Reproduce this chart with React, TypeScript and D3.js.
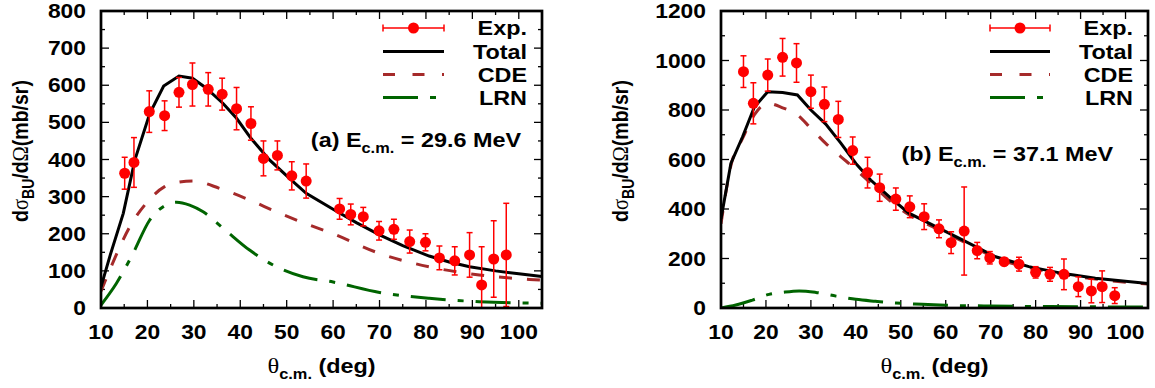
import React from 'react';
import * as d3 from 'd3';

// ---- panel (a): E_cm = 29.6 MeV ----
const thetaExpA = [15.1, 17.1, 20.4, 23.7, 26.8, 29.7, 33.1, 36.1, 39.2, 42.3, 45.0, 48.0, 51.1, 54.2, 61.4, 63.8, 66.5, 69.9, 73.1, 76.5, 79.9, 82.9, 86.2, 89.4, 92.0, 94.6, 97.3];
const sigmaExpA = [363, 392, 529, 518, 581, 602, 589, 576, 537, 497, 403, 411, 356, 342, 267, 252, 246, 208, 212, 179, 177, 135, 127, 143, 62, 132, 143];
const errExpA = [43, 67, 56, 40, 40, 58, 45, 43, 57, 45, 47, 39, 38, 46, 28, 28, 25, 25, 27, 31, 23, 32, 38, 60, 103, 103, 139];

const totalA: [number, number][] = [[10, 57], [12, 143], [14.8, 255], [17.3, 399], [20.5, 524], [23.5, 598], [26.8, 625], [29.7, 619], [32.7, 592], [36.3, 551], [39.2, 511], [42.3, 457], [46.3, 399], [50.6, 349], [54.2, 309], [60, 266], [65, 230], [70, 197], [75, 168], [80.7, 140], [85, 124], [89.4, 111], [95, 100], [100, 92], [105, 85]];
const cdeA: [number, number][] = [[10, 45], [13, 135], [16.2, 219], [19.4, 277], [23.7, 327], [26.8, 339], [29.8, 342], [35.6, 322], [42, 291], [47.8, 259], [53.5, 230], [60, 200], [70, 147], [80.7, 111], [91.5, 89], [102.3, 77], [105, 75]];
const lrnA: [number, number][] = [[10, 8], [13.3, 66], [16.9, 147], [20.5, 237], [23.4, 273], [26.3, 285], [29.1, 277], [32, 259], [36.3, 215], [42, 156], [47.8, 111], [53.5, 84], [60, 70], [70, 42], [80.7, 26], [91.5, 17], [105, 13]];

// ---- panel (b): E_cm = 37.1 MeV ----
const thetaExpB = [15.0, 17.2, 20.4, 23.7, 26.8, 30.0, 33.0, 36.1, 39.3, 42.6, 45.3, 48.9, 52.0, 55.2, 58.5, 61.2, 64.1, 67.0, 69.8, 73.0, 76.3, 80.0, 83.2, 86.3, 89.5, 92.4, 94.8, 97.6];
const sigmaExpB = [955, 827, 941, 1013, 990, 874, 823, 762, 636, 547, 486, 440, 409, 369, 320, 264, 311, 232, 203, 187, 177, 144, 136, 136, 86, 69, 86, 50];
const errExpB = [64, 83, 65, 76, 78, 67, 70, 73, 55, 62, 55, 45, 44, 52, 36, 44, 178, 33, 25, 15, 28, 23, 28, 62, 40, 48, 64, 32];

const totalB: [number, number][] = [[10, 360], [12.2, 584], [14.8, 692], [17.4, 811], [20.4, 874], [23.7, 871], [27, 861], [30, 800], [33.3, 743], [36.7, 665], [40, 584], [43.3, 517], [47.4, 450], [51.8, 383], [57.8, 329], [63.7, 275], [71.1, 207], [78.5, 167], [85.9, 140], [93.3, 120], [105, 99]];
const cdeB: [number, number][] = [[10, 340], [12.2, 575], [14.8, 685], [17.4, 780], [20.4, 827], [23.7, 809], [27, 780], [30, 726], [33.3, 665], [36.7, 611], [39.3, 571], [43.3, 504], [47.4, 436], [51.8, 377], [57.8, 322], [63.7, 270], [71.1, 203], [78.5, 163], [85.9, 137], [93.3, 117], [105, 97]];
const lrnB: [number, number][] = [[10, 0], [13.3, 12], [17, 32], [20.7, 55], [23.7, 63], [27.4, 69], [31.1, 63], [35.6, 48], [40, 35], [44.4, 27], [48.9, 20], [54.8, 15], [60, 11], [70, 8], [80, 6], [90, 5], [105, 4]];

const legendLabels = ['Exp.', 'Total', 'CDE', 'LRN'];
const xTickValues = [10, 20, 30, 40, 50, 60, 70, 80, 90, 100];

const FONT = "'Liberation Sans', Arial, Helvetica, sans-serif";
const SERIF = "'Liberation Serif', 'DejaVu Serif', serif";
const SX = 1.17; // the original's lettering is stretched sideways
const RED = '#ff0000';
const BROWN = '#a52a2a';
const GREEN = '#006400';
const CDE_DASH = '13,15';
const LRN_DASH = '35,12,6,12';

const BoldText = ({ x, y, anchor = 'start', size = 20, children }: any) => (
  <text transform={`translate(${x},${y}) scale(${SX},1)`} textAnchor={anchor}
    fontFamily={FONT} fontWeight="bold" fontSize={size} fill="#000">{children}</text>
);

const Panel = ({ id, left, right, yMax, yStep, theta, sigma, err, total, cde, lrn, tag, energy, noteX, noteY, legX0, legX1, legText, yLabelX }: any) => {
  const top = 11, bottom = 308;
  const x = d3.scaleLinear().domain([10, 105]).range([left, right]);
  const y = d3.scaleLinear().domain([0, yMax]).range([bottom, top]);

  const yMajor = d3.range(0, yMax + 1, yStep);
  const yMinor = d3.range(yStep / 2, yMax, yStep);
  const xMinor = d3.range(15, 100, 10);

  const linLine = d3.line<[number, number]>().x(d => x(d[0])).y(d => y(d[1]));
  const smoothLine = d3.line<[number, number]>().x(d => x(d[0])).y(d => y(d[1])).curve(d3.curveMonotoneX);

  const legRows = [28, 51.5, 74.5, 97.5];
  const cx = (left + right) / 2;

  return (
    <g>
      <defs>
        <clipPath id={`clip-${id}`}>
          <rect x={left} y={top} width={right - left} height={bottom - top} />
        </clipPath>
      </defs>

      {/* ticks, mirrored on all four sides */}
      <g stroke="#000" strokeWidth={1.3}>
        {xTickValues.map(t => (
          <g key={'xt' + t}>
            <line x1={x(t)} x2={x(t)} y1={bottom} y2={bottom - 8} />
            <line x1={x(t)} x2={x(t)} y1={top} y2={top + 8} />
          </g>
        ))}
        {xMinor.map(t => (
          <g key={'xm' + t}>
            <line x1={x(t)} x2={x(t)} y1={bottom} y2={bottom - 4} />
            <line x1={x(t)} x2={x(t)} y1={top} y2={top + 4} />
          </g>
        ))}
        {yMajor.map(t => (
          <g key={'yt' + t}>
            <line x1={left} x2={left + 8} y1={y(t)} y2={y(t)} />
            <line x1={right} x2={right - 8} y1={y(t)} y2={y(t)} />
          </g>
        ))}
        {yMinor.map(t => (
          <g key={'ym' + t}>
            <line x1={left} x2={left + 4} y1={y(t)} y2={y(t)} />
            <line x1={right} x2={right - 4} y1={y(t)} y2={y(t)} />
          </g>
        ))}
      </g>

      {/* tick labels */}
      {xTickValues.map(t => (
        <BoldText key={'xl' + t} x={x(t)} y={339} anchor="middle" size={19.5}>{t}</BoldText>
      ))}
      {yMajor.map(t => (
        <BoldText key={'yl' + t} x={left - 15} y={y(t) + 7} anchor="end" size={19.5}>{t}</BoldText>
      ))}

      {/* curves */}
      <g clipPath={`url(#clip-${id})`} fill="none" strokeWidth={3}>
        <path d={smoothLine(lrn) || ''} stroke={GREEN} strokeDasharray={LRN_DASH} />
        <path d={smoothLine(cde) || ''} stroke={BROWN} strokeDasharray={CDE_DASH} />
        <path d={linLine(total) || ''} stroke="#000" />
        {theta.map((t: number, i: number) => {
          const px = x(t);
          const hi = y(sigma[i] + err[i]);
          const lo = y(sigma[i] - err[i]);
          return (
            <g key={'p' + i} stroke={RED} strokeWidth={1.5}>
              <line x1={px} x2={px} y1={hi} y2={lo} />
              <line x1={px - 3} x2={px + 3} y1={hi} y2={hi} />
              <line x1={px - 3} x2={px + 3} y1={lo} y2={lo} />
              <circle cx={px} cy={y(sigma[i])} r={5.5} fill={RED} stroke="none" />
            </g>
          );
        })}
      </g>

      {/* legend */}
      <g>
        <g stroke={RED} strokeWidth={1.5}>
          <line x1={legX0} x2={legX1} y1={legRows[0]} y2={legRows[0]} />
          <line x1={legX0} x2={legX0} y1={legRows[0] - 3.5} y2={legRows[0] + 3.5} />
          <line x1={legX1} x2={legX1} y1={legRows[0] - 3.5} y2={legRows[0] + 3.5} />
          <circle cx={(legX0 + legX1) / 2} cy={legRows[0]} r={5.5} fill={RED} stroke="none" />
        </g>
        <line x1={legX0} x2={legX1} y1={legRows[1]} y2={legRows[1]} stroke="#000" strokeWidth={3} />
        <line x1={legX0} x2={legX1} y1={legRows[2]} y2={legRows[2]} stroke={BROWN} strokeWidth={3} strokeDasharray="12,17.5" />
        <line x1={legX0} x2={legX1} y1={legRows[3]} y2={legRows[3]} stroke={GREEN} strokeWidth={3} strokeDasharray={LRN_DASH} />
        {legendLabels.map((l, i) => (
          <BoldText key={l} x={legText} y={legRows[i] + 7} anchor="end" size={20}>{l}</BoldText>
        ))}
      </g>

      {/* annotation */}
      <BoldText x={noteX} y={noteY} anchor="end" size={20}>
        {`(${tag}) E`}<tspan fontSize={14} dy={6}>c.m.</tspan><tspan dy={-6}>{` = ${energy} MeV`}</tspan>
      </BoldText>

      {/* axis titles */}
      <text transform={`translate(${cx},373) scale(${SX},1)`} textAnchor="middle" fontFamily={FONT} fontWeight="bold" fontSize={20}>
        <tspan fontFamily={SERIF} fontWeight="normal" fontSize={21}>θ</tspan>
        <tspan fontSize={14} dy={6}>c.m.</tspan>
        <tspan dy={-6}> (deg)</tspan>
      </text>
      <text transform={`translate(${yLabelX},151) rotate(-90) scale(1,${SX})`} textAnchor="middle" fontFamily={FONT} fontWeight="bold" fontSize={19.5}>
        d<tspan fontFamily={SERIF} fontWeight="normal" fontSize={20.5}>σ</tspan>
        <tspan fontSize={14} dy={5}>BU</tspan>
        <tspan dy={-5}>/d</tspan>
        <tspan fontFamily={SERIF} fontWeight="normal" fontSize={20.5}>Ω</tspan>
        (mb/sr)
      </text>

      {/* frame */}
      <rect x={left} y={top} width={right - left} height={bottom - top} fill="none" stroke="#000" strokeWidth={2.7} />
    </g>
  );
};

export default function App() {
  return (
    <svg width={1155} height={388} style={{ position: 'absolute', left: 0, top: 0, background: '#fff' }}>
      <rect width={1155} height={388} fill="#fff" />
      <Panel id="a" left={101} right={542} yMax={800} yStep={100}
        theta={thetaExpA} sigma={sigmaExpA} err={errExpA} total={totalA} cde={cdeA} lrn={lrnA}
        tag="a" energy="29.6" noteX={521} noteY={147}
        legX0={383} legX1={444} legText={527} yLabelX={28} />
      <Panel id="b" left={721} right={1148} yMax={1200} yStep={200}
        theta={thetaExpB} sigma={sigmaExpB} err={errExpB} total={totalB} cde={cdeB} lrn={lrnB}
        tag="b" energy="37.1" noteX={1113} noteY={161}
        legX0={990} legX1={1050} legText={1133} yLabelX={628} />
    </svg>
  );
}
